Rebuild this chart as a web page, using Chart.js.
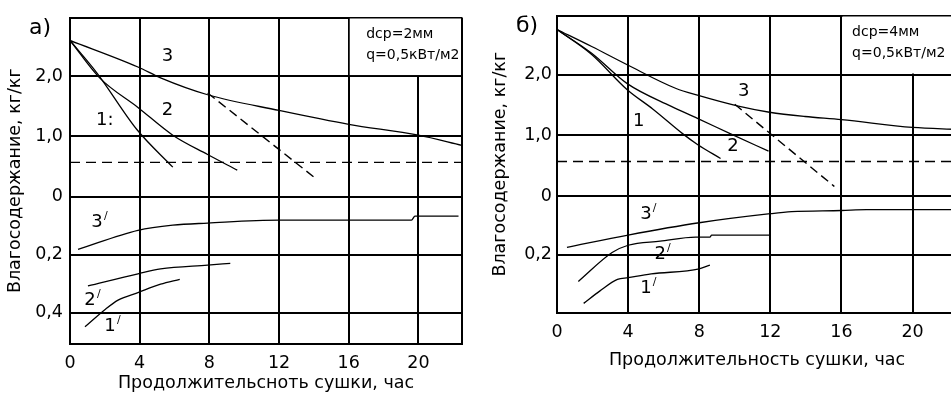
<!DOCTYPE html>
<html>
<head>
<meta charset="utf-8">
<script src="https://cdn.jsdelivr.net/npm/chart.js"></script>
<style>
  html, body { margin: 0; padding: 0; background: #fff; overflow: hidden; width: 951px; height: 395px; }
  .panel { position: absolute; top: 0; }
  #panelA { left: 0; }
  #panelB { left: 485px; }
</style>
</head>
<body>
<div class="panel" id="panelA"><canvas id="chartA" width="475" height="395"></canvas></div>
<div class="panel" id="panelB"><canvas id="chartB" width="500" height="395"></canvas></div>
<script>
// Axis ticks
const hourTicks = [0, 4, 8, 12, 16, 20];
const upperTicks = [0, 1, 2];
const upperTickLabels = ['0', '1,0', '2,0'];
const lowerTicks = [0.4, 0.2];
const lowerTickLabels = ['0,4', '0,2'];
const criticalMoisture = 0.57;

// Panel a) dcp = 2 mm : [hours, kg/kg]
const a1 = [[0, 2.59], [1.55, 2.05], [3.85, 1.11], [5.9, 0.49]];
const a2 = [[0, 2.59], [1.7, 1.97], [3.9, 1.48], [5.9, 1.02], [7.9, 0.70], [9.6, 0.44]];
const a3 = [[0, 2.59], [3.9, 2.15], [5.2, 1.97], [7.9, 1.69], [12, 1.43], [16, 1.2], [20, 1.02], [22.5, 0.85]];
const aBreak = [[7.9, 1.72], [14.2, 0.28]];
// lower curves, read on the lower scale (0 .. 0,4)
const a1p = [[0.86, 0.449], [2.0, 0.39], [2.76, 0.357], [3.9, 0.331], [5.2, 0.302], [6.3, 0.285]];
const a2p = [[1.03, 0.308], [3.9, 0.266], [5.2, 0.249], [7.9, 0.236], [9.2, 0.23]];
const a3p = [[0.46, 0.182], [3.9, 0.116], [5.9, 0.098], [7.9, 0.091], [12, 0.081], [19.6, 0.081], [19.8, 0.067], [22.3, 0.067]];

// Panel б) dcp = 4 mm
const b1 = [[0, 2.74], [1.95, 2.33], [3.95, 1.75], [5.4, 1.43], [7.1, 1.02], [7.9, 0.85], [9.2, 0.62]];
const b2 = [[0, 2.74], [1.95, 2.35], [3.95, 1.85], [6.4, 1.48], [7.9, 1.28], [9.8, 1.02], [11.9, 0.74]];
const b3 = [[0, 2.74], [1.95, 2.46], [3.95, 2.16], [6.7, 1.77], [7.9, 1.66], [10.2, 1.48], [11.95, 1.38], [13.95, 1.31], [16, 1.26], [20, 1.13], [22.5, 1.1]];
const bBreak = [[10.0, 1.51], [15.6, 0.16]];
const b1p = [[1.5, 0.367], [2.4, 0.325], [3.4, 0.285], [4, 0.279], [5.3, 0.266], [8, 0.249], [8.6, 0.236]];
const b2p = [[1.2, 0.292], [3.1, 0.193], [4, 0.168], [5.8, 0.154], [7.8, 0.140], [8.6, 0.140], [8.7, 0.133], [12, 0.133]];
const b3p = [[0.56, 0.175], [4, 0.133], [8, 0.091], [12, 0.060], [13.2, 0.053], [16, 0.049], [17.4, 0.046], [22.5, 0.046]];

// the lower scale runs downwards below 0, one 0,2 step ~ one unit of the upper scale
const LOWER_SCALE = 4.8;
const toAxis = v => -v * LOWER_SCALE;

const FONT = '"DejaVu Sans", sans-serif';
Chart.defaults.font.family = FONT;
Chart.defaults.color = '#000';

function curve(points, lower, dash) {
  return {
    data: points.map(([h, v]) => ({ x: h, y: lower ? toAxis(v) : v })),
    borderColor: '#000',
    borderWidth: dash ? 1.4 : 1.3,
    borderDash: dash || [],
    pointRadius: 0,
    cubicInterpolationMode: 'monotone',
    fill: false
  };
}

const decorPlugin = {
  id: 'decor',
  beforeDatasetsDraw(chart, args, o) {
    // the parameters sit in a merged cell at the top right
    const { ctx, chartArea: area, scales: { x, y } } = chart;
    const left = x.getPixelForValue(16) + 1;
    const bottom = y.getPixelForValue(2) - 1;
    ctx.save();
    ctx.fillStyle = '#fff';
    ctx.fillRect(left, area.top + 1, area.right - 1 - left, bottom - area.top - 1);
    ctx.restore();
  },
  afterDatasetsDraw(chart, args, o) {
    const { ctx, chartArea: area, scales: { x, y } } = chart;
    ctx.save();
    ctx.fillStyle = '#000';
    ctx.textAlign = 'center';
    ctx.textBaseline = 'middle';
    o.curveLabels.forEach(l => {
      const px = x.getPixelForValue(l.x);
      const py = y.getPixelForValue(l.lower ? toAxis(l.y) : l.y);
      ctx.font = '18px ' + FONT;
      ctx.fillText(l.text, px, py);
      if (l.lower) {
        const w = ctx.measureText(l.text).width;
        ctx.font = '11px ' + FONT;
        ctx.fillText('/', px + w / 2 + 3, py - 6);
      }
    });
    ctx.textAlign = 'left';
    ctx.textBaseline = 'alphabetic';
    ctx.font = '14px ' + FONT;
    const nx = x.getPixelForValue(o.noteAt);
    o.note.forEach((line, i) => ctx.fillText(line, nx, area.top + 20 + i * 21));
    ctx.textAlign = 'center';
    ctx.textBaseline = 'middle';
    ctx.font = '22px ' + FONT;
    ctx.fillText(o.letter, area.left - 30, area.top + 11);
    ctx.restore();
  }
};

function makeChart(id, cfg) {
  const yVals = cfg.lowerTicks.map(toAxis).concat(upperTicks, [cfg.yMax]);
  const yLabels = cfg.lowerLabels.concat(upperTickLabels, ['']);
  const xVals = hourTicks.concat([cfg.xMax]);
  const xLabels = hourTicks.map(String).concat(['']);

  const datasets = cfg.curves.map(c => curve(c[0], c[1], c[2]));
  datasets.push(curve([[0, criticalMoisture], [cfg.xMax, criticalMoisture]], false, [10, 6]));

  return new Chart(document.getElementById(id), {
    type: 'line',
    data: { datasets: datasets },
    options: {
      responsive: false,
      animation: false,
      events: [],
      layout: { padding: { top: 14, left: 0, right: cfg.padRight, bottom: 0 } },
      plugins: {
        legend: { display: false },
        tooltip: { enabled: false },
        decor: { curveLabels: cfg.labels, note: cfg.note, noteAt: cfg.noteAt, letter: cfg.letter }
      },
      scales: {
        x: {
          type: 'linear',
          min: 0,
          max: cfg.xMax,
          afterBuildTicks: s => { s.ticks = xVals.map(v => ({ value: v })); },
          afterFit: s => { s.height = cfg.xAxisHeight; },
          ticks: {
            autoSkip: false,
            maxRotation: 0,
            padding: 9,
            font: { size: 17.5 },
            callback: (v, i) => xLabels[i]
          },
          grid: { color: '#000', lineWidth: 2, drawTicks: false },
          border: { color: '#000', width: 2 },
          title: {
            display: true,
            text: cfg.xTitle,
            font: { size: 17.5 },
            padding: { top: 0, bottom: cfg.xTitlePad }
          }
        },
        y: {
          type: 'linear',
          min: cfg.yMin,
          max: cfg.yMax,
          afterBuildTicks: s => { s.ticks = yVals.map(v => ({ value: v })); },
          afterFit: s => { s.width = cfg.yAxisWidth; },
          ticks: {
            autoSkip: false,
            padding: cfg.yTickPad,
            font: { size: 17.5 },
            callback: (v, i) => yLabels[i]
          },
          grid: { color: '#000', lineWidth: 2, drawTicks: false },
          border: { color: '#000', width: 2 },
          title: {
            display: true,
            text: 'Влагосодержание, кг/кг',
            font: { size: 17.5 },
            padding: { top: 4.5, bottom: 0 }
          }
        }
      }
    },
    plugins: [decorPlugin]
  });
}

makeChart('chartA', {
  xMax: 22.5, yMin: -2.44, yMax: 2.97,
  lowerTicks: lowerTicks, lowerLabels: lowerTickLabels,
  xAxisHeight: 51, yAxisWidth: 70, padRight: 13, yTickPad: 7, xTitlePad: 1.5,
  xTitle: 'Продолжительсноть сушки, час',
  curves: [[a1], [a2], [a3], [aBreak, false, [9, 5]], [a1p, true], [a2p, true], [a3p, true]],
  labels: [
    { text: '3', x: 5.6, y: 2.33 },
    { text: '2', x: 5.6, y: 1.43 },
    { text: '1:', x: 2.0, y: 1.26 },
    { text: '3', x: 1.55, y: 0.088, lower: true },
    { text: '2', x: 1.15, y: 0.357, lower: true },
    { text: '1', x: 2.3, y: 0.446, lower: true }
  ],
  note: ['dcp=2мм', 'q=0,5кВт/м2'], noteAt: 17.0, letter: 'а)'
});

makeChart('chartB', {
  xMax: 22.5, yMin: toAxis(0.4), yMax: 2.97,
  lowerTicks: [0.2], lowerLabels: ['0,2'],
  xAxisHeight: 82, yAxisWidth: 72, padRight: 28, yTickPad: 5, xTitlePad: 24.5,
  xTitle: 'Продолжительность сушки, час',
  curves: [[b1], [b2], [b3], [bBreak, false, [9, 5]], [b1p, true], [b2p, true], [b3p, true]],
  labels: [
    { text: '3', x: 10.5, y: 1.72 },
    { text: '2', x: 9.9, y: 0.82 },
    { text: '1', x: 4.6, y: 1.23 },
    { text: '3', x: 5.0, y: 0.063, lower: true },
    { text: '2', x: 5.8, y: 0.2, lower: true },
    { text: '1', x: 5.0, y: 0.315, lower: true }
  ],
  note: ['dcp=4мм', 'q=0,5кВт/м2'], noteAt: 16.6, letter: 'б)'
});
</script>
</body>
</html>
